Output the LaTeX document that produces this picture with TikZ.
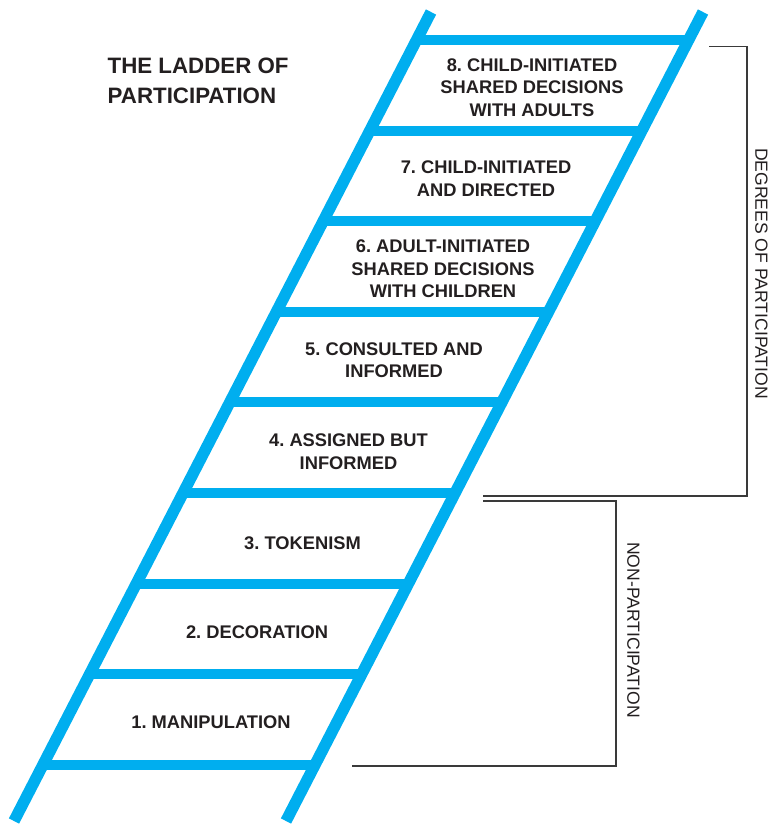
\documentclass[tikz,border=0pt]{standalone}
\usepackage{fontspec}
\setmainfont{Liberation Sans}
\usetikzlibrary{calc}
\definecolor{ladderblue}{HTML}{00AEEF}
\definecolor{inkgrey}{HTML}{231F20}
\definecolor{bracketgrey}{HTML}{3A3A3A}
\tikzset{
  rail/.style={draw=ladderblue, line width=11.5pt, line cap=butt},
  rungbar/.style={draw=ladderblue, line width=10pt, line cap=butt},
  steplabel/.style={font=\frenchspacing\bfseries\fontsize{18.3}{22.5}\selectfont, text=inkgrey, align=center, inner sep=0pt},
  titlelabel/.style={font=\bfseries\fontsize{22.3}{30}\selectfont, text=inkgrey, align=left, inner sep=0pt},
  sidelabel/.style={font=\fontsize{17.6}{20}\selectfont, text=inkgrey, inner sep=0pt, rotate=-90},
  bracketline/.style={draw=bracketgrey, line width=1.2pt, line join=miter}
}
\begin{document}
\begin{tikzpicture}[x=1pt, y=-1pt]
\useasboundingbox (0,0) rectangle (772,825);
% rails end points
\coordinate (lt) at (431,12);
\coordinate (lb) at (14,821);
\coordinate (rt) at (703,12);
\coordinate (rb) at (286,821);
% rungs
\foreach \i in {0,...,8} {
  \pgfmathsetmacro\t{(28+\i*90.625)/809}
  \coordinate (rl\i) at ($(lt)!\t!(lb)$);
  \coordinate (rr\i) at ($(rt)!\t!(rb)$);
  \draw[rungbar] (rl\i) -- (rr\i);
}
\draw[rail] (lt) -- (lb);
\draw[rail] (rt) -- (rb);
% title
\node[titlelabel, anchor=north west] (title) at (107.5,57.5) {THE LADDER OF\\PARTICIPATION};
% step labels
\node[steplabel] (s8) at (532,87.5) {8. CHILD-INITIATED\\SHARED DECISIONS\\WITH ADULTS};
\node[steplabel] (s7) at (486,178.5) {7. CHILD-INITIATED\\AND DIRECTED};
\node[steplabel] (s6) at (443,269) {6. ADULT-INITIATED\\SHARED DECISIONS\\WITH CHILDREN};
\node[steplabel] (s5) at (394,360) {5. CONSULTED AND\\INFORMED};
\node[steplabel] (s4) at (348.5,451.5) {4. ASSIGNED BUT\\INFORMED};
\node[steplabel] (s3) at (302.5,543) {3. TOKENISM};
\node[steplabel] (s2) at (257,632) {2. DECORATION};
\node[steplabel] (s1) at (211,722) {1. MANIPULATION};
% brackets
\coordinate (b1) at (709,46.7);
\coordinate (b2) at (747,46.7);
\coordinate (b3) at (747,496);
\coordinate (b4) at (483,496);
\draw[bracketline] (b1) -- (b2) -- (b3) -- (b4);
\coordinate (c1) at (483,501);
\coordinate (c2) at (616,501);
\coordinate (c3) at (616,766);
\coordinate (c4) at (352,766);
\draw[bracketline] (c1) -- (c2) -- (c3) -- (c4);
\node[sidelabel] (deg) at (761.5,273.5) {DEGREES OF PARTICIPATION};
\node[sidelabel] (non) at (633.5,630) {NON-PARTICIPATION};
\end{tikzpicture}
\end{document}
